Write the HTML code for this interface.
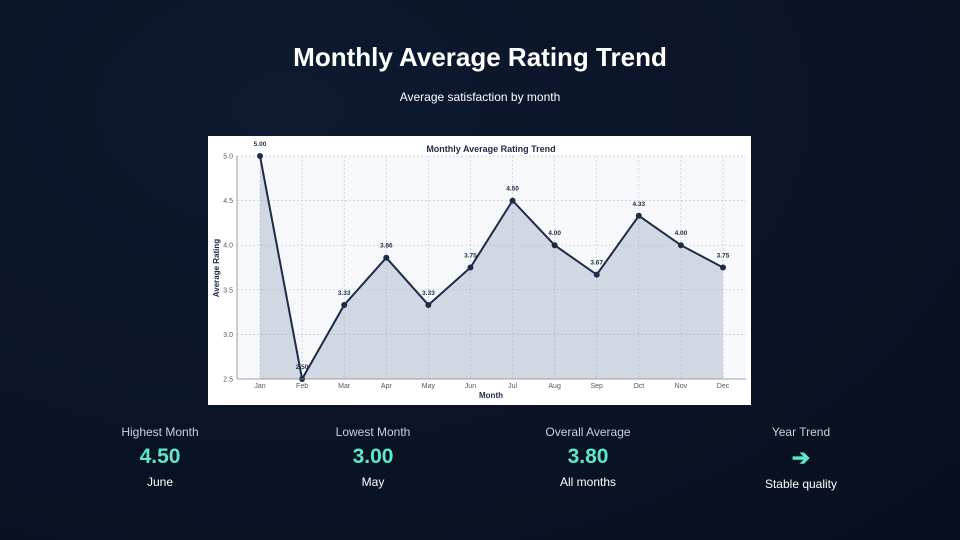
<!DOCTYPE html>
<html><head><meta charset="utf-8"><style>
html,body{margin:0;padding:0;width:960px;height:540px;overflow:hidden;background:radial-gradient(ellipse at 30% 20%,#0d1a30 0%,#0a1226 60%,#08101f 100%);font-family:"Liberation Sans",sans-serif;color:#fff}
.t{position:absolute;left:0;width:960px;text-align:center}
.kpi{position:absolute;width:200px;text-align:center}
.kl{font-size:12px;color:#c8d0dc;top:0}
.kv{font-size:21px;font-weight:bold;color:#5ee8c8;margin-top:6px}
.ks{font-size:12px;color:#fff;margin-top:6px}
</style></head><body>
<div class="t" style="top:42px;font-size:26px;font-weight:bold">Monthly Average Rating Trend</div>
<div class="t" style="top:90px;font-size:12px">Average satisfaction by month</div>
<svg id="chart" style="position:absolute;left:208px;top:136px" width="543" height="269" viewBox="208 136 543 269"></svg>
<div class="kpi" style="left:60px;top:425px"><div class="kl">Highest Month</div><div class="kv">4.50</div><div class="ks">June</div></div>
<div class="kpi" style="left:273px;top:425px"><div class="kl">Lowest Month</div><div class="kv">3.00</div><div class="ks">May</div></div>
<div class="kpi" style="left:488px;top:425px"><div class="kl">Overall Average</div><div class="kv">3.80</div><div class="ks">All months</div></div>
<div class="kpi" style="left:701px;top:425px"><div class="kl">Year Trend</div><div class="kv" style="font-size:22px">➔</div><div class="ks" style="margin-top:6px">Stable quality</div></div>
<script>
const months=["Jan","Feb","Mar","Apr","May","Jun","Jul","Aug","Sep","Oct","Nov","Dec"];
const ratings=[5.00,2.50,3.33,3.86,3.33,3.75,4.50,4.00,3.67,4.33,4.00,3.75];
const yTicks=[2.5,3.0,3.5,4.0,4.5,5.0];
const NS="http://www.w3.org/2000/svg";
const svg=document.getElementById('chart');
const L=237,R=746,T=156,B=379,yMin=2.5,yMax=5.0;
const x0=260,x1=723;
function xs(i){return x0+(x1-x0)*i/(months.length-1);}
function ys(v){return B-(v-yMin)/(yMax-yMin)*(B-T);}
function mk(tag,a,txt){const e=document.createElementNS(NS,tag);for(const k in a)e.setAttribute(k,a[k]);if(txt!==undefined)e.textContent=txt;svg.appendChild(e);return e;}
let e=mk('rect',{x:208,y:136,width:543,height:269,fill:'#fff'});


e=mk('rect',{x:L,y:T,width:R-L,height:B-T,fill:'#f6f8fb'});


yTicks.forEach(v=>{
 const g=mk('line',{x1:L,x2:R,y1:ys(v),y2:ys(v),stroke:'#c5ccd6','stroke-width':0.7,'stroke-dasharray':'2,2'});
 
 
 const t=mk('text',{x:L-4,y:ys(v)+2.5,'font-size':7,fill:'#556','text-anchor':'end'},v.toFixed(1));
 
 
});
months.forEach((m,i)=>{
 const g=mk('line',{x1:xs(i),x2:xs(i),y1:T,y2:B,stroke:'#c5ccd6','stroke-width':0.7,'stroke-dasharray':'2,2'});
 
 
 const t=mk('text',{x:xs(i),y:388,'font-size':7,fill:'#556','text-anchor':'middle'},m);
 
 
});
let pts=ratings.map((v,i)=>xs(i)+','+ys(v)).join(' ');
e=mk('polygon',{points:xs(0)+','+B+' '+pts+' '+xs(ratings.length-1)+','+B,fill:'#9aa7c0','fill-opacity':0.4});


e=mk('polyline',{points:pts,fill:'none',stroke:'#1c2b48','stroke-width':2});


ratings.forEach((v,i)=>{
 const c=mk('circle',{cx:xs(i),cy:ys(v),r:3,fill:'#1c2b48'});
 
 
 const t=mk('text',{x:xs(i),y:ys(v)-10,'font-size':6.5,'font-weight':'bold',fill:'#1c2b48','text-anchor':'middle'},v.toFixed(2));
 
 
});
e=mk('line',{x1:L,x2:L,y1:T,y2:B,stroke:'#888','stroke-width':0.8});


e=mk('line',{x1:L,x2:R,y1:B,y2:B,stroke:'#888','stroke-width':0.8});


e=mk('text',{x:491,y:152,'font-size':9,'font-weight':'bold',fill:'#1c2b48','text-anchor':'middle'},'Monthly Average Rating Trend');


e=mk('text',{x:491,y:398,'font-size':8,'font-weight':'bold',fill:'#1c2b48','text-anchor':'middle'},'Month');


e=mk('text',{x:219,y:268,'font-size':8,'font-weight':'bold',fill:'#1c2b48','text-anchor':'middle',transform:'rotate(-90 219 268)'},'Average Rating');


</script>
</body></html>
